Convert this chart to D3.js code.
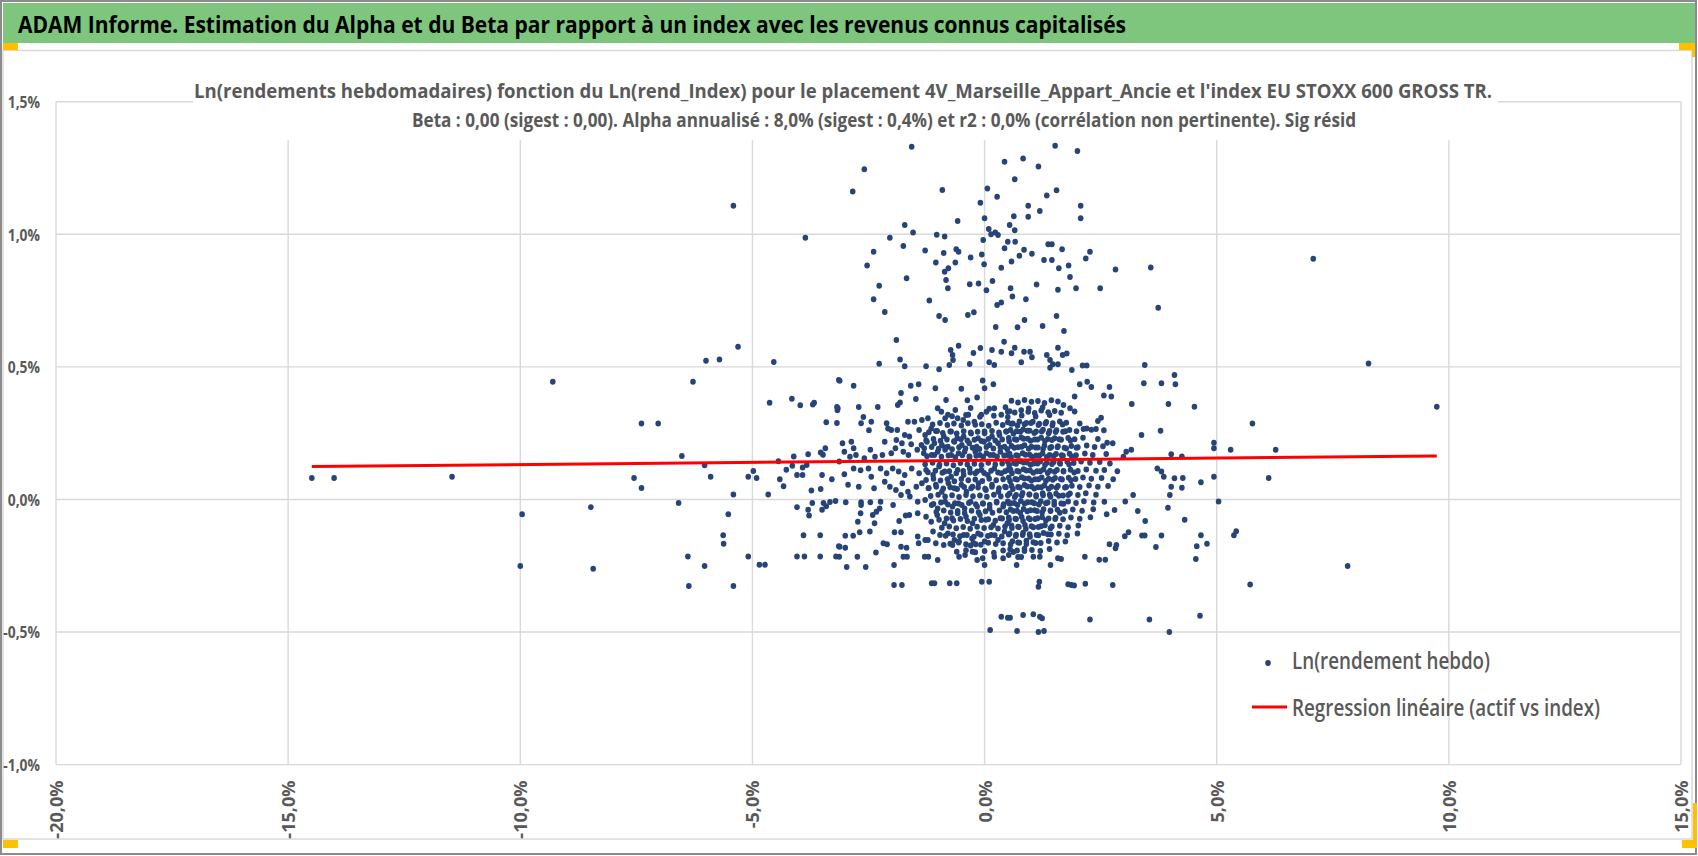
<!DOCTYPE html>
<html>
<head>
<meta charset="utf-8">
<script src="https://cdn.jsdelivr.net/npm/d3@7"></script>
<style>
  body { margin: 0; background: #fff; }
  svg text { font-family: "Open Sans", "Liberation Sans", sans-serif; }
</style>
</head>
<body>
<div id="chart"></div>
<script>
// ---- text ----
var headerTitle = "ADAM Informe. Estimation du Alpha et du Beta par rapport à un index avec les revenus connus capitalisés";
var chartTitle = [
  "Ln(rendements hebdomadaires) fonction du Ln(rend_Index) pour le placement 4V_Marseille_Appart_Ancie et l'index EU STOXX 600 GROSS TR.",
  "Beta : 0,00 (sigest : 0,00). Alpha annualisé : 8,0% (sigest : 0,4%) et r2 : 0,0% (corrélation non pertinente). Sig résid"
];
var seriesNames = ["Ln(rendement hebdo)", "Regression linéaire (actif vs index)"];

// ---- ticks (in %) ----
var xTicks = [-20, -15, -10, -5, 0, 5, 10, 15];
var yTicks = [-1.0, -0.5, 0.0, 0.5, 1.0, 1.5];

// ---- regression (in %) ----
var regIntercept = 0.148;
var regSlope = 0.00165;

// ---- points [index %, asset %] ----
// left wing
var ptsLeft = [
  [-5.41,1.108],[-3.86,0.987],[-5.31,0.576],[-6.00,0.523],[-5.71,0.528],[-4.54,0.518],[-9.30,0.444],[-6.28,0.444],
  [-3.14,0.450],[-4.63,0.365],[-4.15,0.380],[-3.97,0.355],[-3.70,0.358],[-3.67,0.365],[-3.18,0.349],[-3.17,0.336],
  [-3.41,0.291],[-3.18,0.288],[-7.39,0.286],[-7.03,0.286],[-6.52,0.164],[-3.43,0.193],[-3.53,0.177],[-3.48,0.169],
  [-3.80,0.170],[-4.11,0.162],[-4.44,0.144],[-6.03,0.129],[-4.14,0.127],[-3.92,0.120],[-3.83,0.130],[-4.27,0.112],
  [-4.98,0.107],[-14.49,0.081],[-14.01,0.081],[-11.47,0.086],[-7.55,0.081],[-5.90,0.086],[-5.09,0.086],[-4.91,0.081],
  [-4.41,0.076],[-4.04,0.092],[-3.92,0.092],[-3.50,0.092],[-3.29,0.076],[-7.39,0.043],[-4.33,0.050],[-3.73,0.034],
  [-3.53,0.039],[-5.41,0.019],[-4.66,0.019],[-6.59,-0.013],[-3.71,-0.013],[-3.47,-0.013],[-3.41,-0.026],[-3.33,-0.010],
  [-3.21,-0.006],[-4.04,-0.029],[-8.48,-0.029],[-3.80,-0.039],[-3.78,-0.061],[-3.50,-0.039],[-9.96,-0.056],[-5.52,-0.056],
  [-5.63,-0.135],[-5.62,-0.167],[-3.90,-0.135],[-3.54,-0.135],[-3.14,-0.177],[-6.39,-0.215],[-5.09,-0.215],[-4.04,-0.215],
  [-3.88,-0.215],[-3.54,-0.215],[-3.20,-0.215],[-10.00,-0.251],[-8.43,-0.261],[-6.03,-0.251],[-4.85,-0.246],[-4.73,-0.246],
  [-6.37,-0.326],[-5.41,-0.326]
];
// right wing
var ptsRight = [
  [7.08,0.908],[8.27,0.513],[9.74,0.350],[4.52,0.350],[5.77,0.286],[4.94,0.214],[4.94,0.193],[5.30,0.187],
  [6.27,0.187],[4.25,0.162],[4.27,0.081],[4.25,0.044],[4.66,0.065],[4.94,0.086],[6.12,0.081],[5.04,-0.008],
  [4.31,-0.077],[4.66,-0.135],[4.57,-0.177],[4.79,-0.167],[4.55,-0.225],[5.37,-0.135],[5.42,-0.120],[5.72,-0.321],
  [7.82,-0.251],[4.64,-0.439]
];
// core, index between -3,2% and 0,5%
var ptsCoreLeft = [
  [-1.57,1.330],[-2.59,1.245],[-2.84,1.161],[-0.91,1.167],[0.43,1.274],[0.06,1.173],[0.27,1.142],[-0.09,1.119],
  [0.00,1.060],[-0.58,1.050],[-1.72,1.035],[-1.54,1.007],[-2.04,0.987],[-1.03,0.998],[-0.86,0.992],[0.09,1.020],
  [0.14,1.000],[0.23,1.007],[-0.03,0.978],[0.29,0.997],[-1.75,0.956],[-2.39,0.934],[-1.28,0.939],[-0.88,0.929],
  [-0.61,0.944],[-0.56,0.934],[0.43,0.947],[-0.06,0.924],[-0.30,0.912],[-2.53,0.882],[-1.05,0.894],[-0.63,0.894],
  [-0.01,0.887],[0.36,0.874],[-0.86,0.859],[-0.78,0.872],[-1.68,0.834],[-0.83,0.828],[-0.79,0.796],[-2.27,0.806],
  [-0.32,0.812],[-0.13,0.814],[0.17,0.824],[0.04,0.789],[-2.39,0.755],[-1.19,0.750],[0.27,0.733],[0.36,0.743],
  [-2.15,0.707],[-0.98,0.692],[-0.85,0.677],[-0.36,0.696],[-0.23,0.706],[0.24,0.650],[-1.90,0.601],[-0.73,0.564],
  [-0.56,0.580],[-0.24,0.552],[-0.09,0.571],[0.16,0.564],[0.36,0.557],[0.42,0.595],[-1.82,0.528],[-2.27,0.512],
  [-1.72,0.502],[-1.26,0.502],[-0.98,0.491],[-0.76,0.507],[-0.68,0.526],[-0.69,0.545],[-0.32,0.511],[0.10,0.517],
  [0.21,0.507],[-3.12,0.448],[-2.82,0.429],[-1.42,0.434],[-1.59,0.429],[-1.06,0.419],[-0.50,0.417],[-0.04,0.449],
  [0.19,0.434],[-1.80,0.401],[-3.16,0.344],[-2.71,0.349],[-2.30,0.349],[-1.82,0.366],[-1.87,0.356],[-1.48,0.379],
  [-0.83,0.375],[-0.63,0.337],[-0.37,0.374],[-0.16,0.384],[0.00,0.419],
  [-2.61,0.311],[-2.44,0.293],[-2.11,0.287],[-2.66,0.287],[-1.65,0.293],[-1.51,0.293],[-1.35,0.300],[-1.22,0.306],
  [-1.01,0.344],[-0.93,0.331],[-0.85,0.306],[-0.79,0.319],[-0.58,0.306],[-0.46,0.300],[-0.35,0.319],[-0.22,0.293],
  [-0.07,0.319],[0.04,0.331],[0.21,0.344],[0.36,0.319],[0.50,0.331],
  [-2.49,0.261],[-2.08,0.268],[-2.01,0.262],[-1.88,0.262],[-1.72,0.243],[-1.62,0.237],[-1.41,0.262],[-1.28,0.243],
  [-1.15,0.268],[-1.02,0.258],[-0.88,0.238],[-0.72,0.256],[-0.59,0.231],[-0.45,0.237],[-0.29,0.249],[-0.14,0.231],
  [0.00,0.256],[0.16,0.237],[0.32,0.243],[0.47,0.256],
  [-3.06,0.212],[-2.87,0.218],[-2.15,0.218],[-1.90,0.224],[-1.78,0.212],[-1.58,0.208],[-1.36,0.205],[-1.24,0.218],
  [-1.08,0.212],[-0.92,0.205],[-0.79,0.199],[-0.65,0.218],[-0.49,0.205],[-0.33,0.212],[-0.17,0.199],[-0.01,0.218],
  [0.11,0.205],[0.29,0.212],[0.43,0.199],
  [-3.02,0.180],[-2.82,0.193],[-2.77,0.168],[-2.46,0.187],[-2.36,0.161],[-2.20,0.168],[-2.01,0.174],[-1.92,0.193],
  [-1.75,0.180],[-1.64,0.168],[-1.45,0.187],[-1.31,0.174],[-1.14,0.168],[-1.01,0.180],[-0.85,0.187],[-0.72,0.168],
  [-0.56,0.174],[-0.43,0.180],[-0.32,0.161],[-0.20,0.180],[-0.10,0.168],[0.04,0.174],[0.19,0.168],[0.34,0.180],
  [0.49,0.168],[-2.90,0.161],[-2.59,0.155],
  [-3.13,0.143],[-3.02,0.095],[-2.82,0.117],[-2.67,0.110],[-2.50,0.117],[-2.44,0.086],[-2.24,0.117],[-2.11,0.099],
  [-1.98,0.117],[-1.85,0.105],[-1.72,0.092],[-1.57,0.117],[-1.41,0.099],[-1.26,0.111],[-1.11,0.092],[-0.98,0.124],
  [-0.86,0.105],[-0.72,0.086],[-0.58,0.111],[-0.45,0.092],[-0.32,0.117],[-0.20,0.099],[-0.07,0.111],[0.07,0.092],
  [0.21,0.117],[0.36,0.099],[0.50,0.111],
  [-2.94,0.055],[-2.71,0.048],[-2.38,0.042],[-2.15,0.067],[-2.04,0.048],[-1.91,0.036],[-1.77,0.061],[-1.65,0.029],
  [-1.47,0.048],[-1.35,0.061],[-1.21,0.042],[-1.05,0.055],[-0.92,0.029],[-0.78,0.061],[-0.65,0.042],[-0.50,0.055],
  [-0.39,0.029],[-0.26,0.048],[-0.13,0.061],[0.03,0.036],[0.16,0.055],[0.30,0.029],[0.44,0.048],[-1.61,0.011],
  [-1.80,0.017],
  [-2.99,-0.011],[-2.66,-0.011],[-2.66,-0.021],[-2.46,-0.011],[-2.24,-0.009],[-1.97,-0.021],[-1.44,-0.009],[-1.28,-0.002],
  [-1.14,-0.021],[-1.01,-0.034],[-0.85,-0.009],[-0.69,-0.027],[-0.56,-0.015],[-0.43,-0.034],[-0.30,-0.009],[-0.16,-0.027],
  [-0.03,-0.015],[0.11,-0.034],[0.26,-0.009],[0.40,-0.027],[0.53,-0.015],
  [-2.67,-0.052],[-2.41,-0.059],[-2.33,-0.046],[-2.26,-0.034],[-2.37,-0.090],[-1.84,-0.081],[-1.70,-0.061],[-1.62,-0.059],
  [-1.44,-0.052],[-1.26,-0.065],[-1.15,-0.084],[-1.02,-0.059],[-0.86,-0.090],[-0.70,-0.071],[-0.58,-0.052],[-0.40,-0.065],
  [-0.26,-0.090],[-0.10,-0.059],[0.03,-0.077],[0.19,-0.096],[0.34,-0.071],[0.49,-0.090],[-2.73,-0.084],
  [-2.69,-0.124],[-2.47,-0.121],[-2.83,-0.137],[-3.00,-0.137],[-1.94,-0.124],[-1.80,-0.124],[-1.44,-0.140],[-1.28,-0.153],
  [-1.11,-0.121],[-0.96,-0.134],[-0.79,-0.128],[-0.65,-0.153],[-0.45,-0.134],[-0.27,-0.147],[-0.14,-0.128],[0.00,-0.159],
  [0.14,-0.134],[0.29,-0.153],[0.43,-0.121],[-2.18,-0.165],[-2.10,-0.169],[-1.80,-0.178],[-1.42,-0.165],[-1.22,-0.153],
  [-1.05,-0.165],[-0.88,-0.172],[-0.69,-0.172],[-0.55,-0.159],[-0.30,-0.174],[-0.19,-0.169],[-3.12,-0.178],[-3.00,-0.182],
  [-3.13,-0.216],[-2.97,-0.255],[-2.74,-0.216],[-2.56,-0.255],[-2.34,-0.200],[-1.95,-0.247],[-1.75,-0.216],[-1.67,-0.216],
  [-1.68,-0.182],[-1.29,-0.216],[-1.21,-0.216],[-1.01,-0.228],[-0.55,-0.216],[-0.42,-0.210],[-0.26,-0.197],[-0.16,-0.228],
  [-0.04,-0.222],[0.00,-0.247],[0.21,-0.216],[0.40,-0.222],[0.52,-0.210],
  [-1.95,-0.323],[-1.78,-0.323],[-1.14,-0.316],[-1.08,-0.316],[-0.75,-0.316],[-0.60,-0.316],[-0.06,-0.310],[0.10,-0.310],
  [0.36,-0.442],[0.50,-0.446],[0.12,-0.492]
];
// core, index between 0,5% and 4,2%
var ptsCoreRight = [
  [1.52,1.334],[2.00,1.314],[0.83,1.286],[1.16,1.256],[0.65,1.208],[1.34,1.146],[1.55,1.166],[0.94,1.108],
  [1.19,1.088],[0.94,1.066],[0.63,1.068],[2.07,1.108],[2.07,1.060],[0.54,1.035],[0.65,1.015],[0.50,0.972],
  [0.66,0.972],[0.85,0.942],[0.75,0.919],[1.02,0.927],[0.58,0.897],[1.37,0.962],[1.45,0.962],[1.67,0.944],
  [1.28,0.903],[1.45,0.903],[1.60,0.872],[1.81,0.882],[1.84,0.839],[2.18,0.909],[2.27,0.934],[2.82,0.867],
  [3.58,0.875],[0.56,0.796],[0.60,0.765],[1.12,0.811],[1.58,0.791],[1.97,0.796],[2.49,0.796],[0.89,0.755],
  [3.74,0.723],[0.86,0.677],[0.71,0.649],[1.25,0.654],[1.55,0.692],[1.71,0.635],[0.65,0.572],[0.58,0.551],
  [0.85,0.557],[0.98,0.557],[1.02,0.536],[0.79,0.517],[1.34,0.545],[1.41,0.526],[1.47,0.510],[1.41,0.497],
  [1.58,0.572],[1.58,0.510],[1.68,0.545],[1.77,0.550],[1.88,0.488],[2.11,0.505],[2.20,0.505],[3.45,0.507],
  [4.09,0.469],[3.43,0.438],[3.81,0.438],[4.11,0.434],[3.96,0.360],[3.17,0.360],[3.79,0.259],[3.38,0.243],
  [4.02,0.170],[2.05,0.434],[2.21,0.444],[2.30,0.424],[2.57,0.392],[2.69,0.424],[2.73,0.388],[1.84,0.344],
  [1.94,0.388],[1.70,0.356],[2.44,0.296],[2.51,0.308],[2.40,0.266],[2.57,0.261],[2.13,0.266],[2.20,0.268],
  [2.64,0.214],[2.76,0.212],[3.05,0.180],[3.16,0.187],[2.99,0.161],[3.72,0.117],[3.81,0.105],[3.86,0.086],
  [4.09,0.080],[4.02,0.048],[3.99,0.017],[3.95,-0.031],[3.20,0.017],[3.03,-0.008],[3.30,-0.044],[3.46,-0.081],
  [3.45,-0.136],[3.39,-0.136],[3.81,-0.136],[3.69,-0.179],[3.02,-0.139],[3.10,-0.124],[2.69,-0.169],[2.84,-0.172],
  [2.82,-0.184],[2.63,-0.056],[2.80,-0.040],[2.47,-0.227],[2.60,-0.227],[2.16,-0.216],[2.76,-0.323],[2.17,-0.318],
  [1.80,-0.320],[1.87,-0.323],[1.93,-0.325],[1.18,-0.310],[1.16,-0.329],[1.42,-0.247],[1.58,-0.222],[1.65,-0.225],
  [1.05,-0.216],[1.19,-0.216],[0.72,-0.217],[0.79,-0.217],[0.69,-0.247],[0.55,-0.446],[0.83,-0.436],[1.05,-0.433],
  [1.19,-0.442],[1.24,-0.448],[2.27,-0.453],[3.55,-0.453],[0.70,-0.496],[1.16,-0.500],[1.28,-0.496],[3.98,-0.500],
  [0.58,0.372],[0.72,0.366],[0.86,0.375],[1.01,0.368],[1.15,0.371],[1.29,0.364],[1.44,0.374],[1.58,0.369],
  [0.54,0.333],[0.65,0.328],[0.79,0.336],[0.94,0.331],[1.08,0.326],[1.22,0.335],[1.37,0.329],[1.51,0.334],[1.65,0.327],[1.94,0.332],
  [0.50,0.291],[0.61,0.286],[0.75,0.294],[0.90,0.288],[1.04,0.293],[1.18,0.285],[1.33,0.292],[1.47,0.287],[1.62,0.294],[1.76,0.289],[2.05,0.286],
  [0.56,0.262],[0.69,0.257],[0.83,0.264],[0.97,0.259],[1.11,0.256],[1.26,0.263],[1.40,0.258],[1.55,0.261],[1.69,0.255],[1.83,0.262],[1.98,0.257],[2.30,0.263],
  [0.52,0.232],[0.65,0.227],[0.79,0.234],[0.93,0.229],[1.08,0.226],[1.22,0.233],[1.36,0.228],[1.51,0.231],[1.65,0.225],[1.80,0.232],[1.94,0.227],[2.12,0.233],[2.44,0.228],
  [0.58,0.202],[0.72,0.197],[0.86,0.204],[1.01,0.199],[1.15,0.196],[1.29,0.203],[1.44,0.198],[1.58,0.201],[1.72,0.195],[1.87,0.202],[2.01,0.197],[2.20,0.203],[2.37,0.198],[2.55,0.201],
  [0.54,0.172],[0.68,0.167],[0.82,0.174],[0.97,0.169],[1.11,0.166],[1.25,0.173],[1.40,0.168],[1.54,0.171],[1.69,0.165],[1.83,0.172],[1.97,0.167],[2.16,0.173],[2.33,0.168],[2.62,0.171],
  [0.50,0.142],[0.63,0.137],[0.77,0.144],[0.91,0.139],[1.06,0.136],[1.20,0.143],[1.34,0.138],[1.49,0.141],[1.63,0.135],[1.78,0.142],[1.92,0.137],[2.08,0.143],[2.27,0.138],[2.48,0.141],[2.70,0.136],
  [0.56,0.112],[0.70,0.107],[0.84,0.114],[0.98,0.109],[1.13,0.106],[1.27,0.113],[1.41,0.108],[1.56,0.111],[1.70,0.105],[1.85,0.112],[2.01,0.107],[2.19,0.113],[2.40,0.108],[2.58,0.111],[2.86,0.106],
  [0.52,0.082],[0.66,0.077],[0.80,0.084],[0.95,0.079],[1.09,0.076],[1.23,0.083],[1.38,0.078],[1.52,0.081],[1.67,0.075],[1.81,0.082],[1.96,0.077],[2.12,0.083],[2.30,0.078],[2.52,0.081],[2.77,0.076],
  [0.58,0.052],[0.72,0.047],[0.86,0.054],[1.01,0.049],[1.15,0.046],[1.29,0.053],[1.44,0.048],[1.58,0.051],[1.73,0.045],[1.88,0.052],[2.05,0.047],[2.25,0.053],[2.44,0.048],[2.66,0.051],
  [0.54,0.022],[0.68,0.017],[0.82,0.024],[0.97,0.019],[1.11,0.016],[1.25,0.023],[1.40,0.018],[1.54,0.021],[1.69,0.015],[1.84,0.022],[2.01,0.017],[2.18,0.023],[2.40,0.018],
  [0.50,-0.008],[0.64,-0.013],[0.78,-0.006],[0.93,-0.011],[1.07,-0.014],[1.21,-0.007],[1.36,-0.012],[1.50,-0.009],[1.65,-0.015],[1.80,-0.008],[1.97,-0.013],[2.14,-0.007],[2.35,-0.012],[2.58,-0.009],
  [0.56,-0.038],[0.70,-0.043],[0.84,-0.036],[0.99,-0.041],[1.13,-0.044],[1.27,-0.037],[1.42,-0.042],[1.57,-0.039],[1.73,-0.045],[1.90,-0.038],[2.10,-0.043],[2.34,-0.037],
  [0.52,-0.068],[0.66,-0.073],[0.80,-0.066],[0.95,-0.071],[1.09,-0.074],[1.24,-0.067],[1.38,-0.072],[1.53,-0.069],[1.69,-0.075],[1.86,-0.068],[2.05,-0.073],[2.28,-0.067],
  [0.58,-0.098],[0.72,-0.103],[0.87,-0.096],[1.01,-0.101],[1.16,-0.104],[1.30,-0.097],[1.45,-0.102],[1.62,-0.099],[1.80,-0.105],[2.02,-0.098],
  [0.54,-0.128],[0.68,-0.133],[0.83,-0.126],[0.97,-0.131],[1.12,-0.134],[1.27,-0.127],[1.43,-0.132],[1.60,-0.129],[1.78,-0.135],[2.00,-0.128],
  [0.60,-0.158],[0.75,-0.163],[0.90,-0.156],[1.05,-0.161],[1.21,-0.164],[1.38,-0.157],[1.56,-0.162],[1.74,-0.159],
  [0.55,-0.188],[0.70,-0.193],[0.86,-0.186],[1.02,-0.191],[1.20,-0.194],[1.40,-0.187]
];
// densest part of the cloud, between the points above
var ptsCoreMid = [
  [-0.70,0.314],[-0.40,0.318],[-0.10,0.312],[0.20,0.316],[0.50,0.311],[0.80,0.317],[1.10,0.313],[1.40,0.318],
  [-0.30,0.345],[0.10,0.342],[0.45,0.348],[0.95,0.343],[1.25,0.347],
  [-1.12,0.283],[-0.96,0.288],[-0.80,0.281],[-0.66,0.286],[-0.50,0.279],[-0.36,0.287],[-0.20,0.282],[-0.06,0.284],[0.09,0.278],[0.25,0.289],[0.39,0.281],[0.57,0.285],[0.71,0.279],[0.86,0.284],[1.00,0.288],[1.16,0.281],[1.31,0.286],[1.46,0.279],[1.68,0.283],
  [-1.20,0.253],[-1.05,0.258],[-0.90,0.251],[-0.74,0.256],[-0.60,0.249],[-0.45,0.257],[-0.30,0.252],[-0.15,0.255],[0.00,0.250],[0.16,0.258],[0.31,0.252],[0.46,0.256],[0.62,0.249],[0.77,0.255],[0.92,0.259],[1.07,0.251],[1.23,0.256],[1.38,0.250],[1.53,0.254],[1.74,0.257],
  [-1.26,0.223],[-1.10,0.228],[-0.95,0.221],[-0.81,0.226],[-0.66,0.219],[-0.51,0.227],[-0.37,0.222],[-0.22,0.225],[-0.07,0.220],[0.08,0.228],[0.23,0.222],[0.38,0.226],[0.53,0.219],[0.69,0.225],[0.84,0.229],[0.99,0.221],[1.14,0.226],[1.30,0.220],[1.45,0.224],[1.61,0.227],[1.85,0.222],
  [-1.30,0.193],[-1.14,0.198],[-0.99,0.191],[-0.85,0.196],[-0.70,0.189],[-0.55,0.197],[-0.41,0.192],[-0.26,0.195],[-0.11,0.190],[0.04,0.198],[0.19,0.192],[0.34,0.196],[0.49,0.189],[0.64,0.195],[0.80,0.199],[0.95,0.191],[1.10,0.196],[1.26,0.190],[1.41,0.194],[1.57,0.197],[1.76,0.192],[1.98,0.195],
  [-1.24,0.163],[-1.08,0.168],[-0.93,0.161],[-0.78,0.166],[-0.63,0.159],[-0.48,0.167],[-0.33,0.162],[-0.18,0.165],[-0.03,0.160],[0.12,0.168],[0.27,0.162],[0.42,0.166],[0.57,0.159],[0.72,0.165],[0.88,0.169],[1.03,0.161],[1.18,0.166],[1.34,0.160],[1.49,0.164],[1.66,0.167],[1.88,0.162],
  [-1.28,0.133],[-1.12,0.138],[-0.97,0.131],[-0.82,0.136],[-0.67,0.129],[-0.52,0.137],[-0.37,0.132],[-0.22,0.135],[-0.07,0.130],[0.08,0.138],[0.23,0.132],[0.38,0.136],[0.53,0.129],[0.68,0.135],[0.84,0.139],[0.99,0.131],[1.14,0.136],[1.30,0.130],[1.45,0.134],[1.62,0.137],[1.82,0.132],
  [-1.22,0.103],[-1.06,0.108],[-0.91,0.101],[-0.76,0.106],[-0.61,0.099],[-0.46,0.107],[-0.31,0.102],[-0.16,0.105],[-0.01,0.100],[0.14,0.108],[0.29,0.102],[0.44,0.106],[0.59,0.099],[0.74,0.105],[0.90,0.109],[1.05,0.101],[1.20,0.106],[1.36,0.100],[1.51,0.104],[1.70,0.107],[1.93,0.102],
  [-1.26,0.073],[-1.10,0.078],[-0.95,0.071],[-0.80,0.076],[-0.65,0.069],[-0.50,0.077],[-0.35,0.072],[-0.20,0.075],[-0.05,0.070],[0.10,0.078],[0.25,0.072],[0.40,0.076],[0.55,0.069],[0.70,0.075],[0.86,0.079],[1.01,0.071],[1.16,0.076],[1.32,0.070],[1.47,0.074],[1.64,0.077],[1.86,0.072],
  [-1.20,0.043],[-1.04,0.048],[-0.89,0.041],[-0.74,0.046],[-0.59,0.039],[-0.44,0.047],[-0.29,0.042],[-0.14,0.045],[0.01,0.040],[0.16,0.048],[0.31,0.042],[0.46,0.046],[0.61,0.039],[0.76,0.045],[0.92,0.049],[1.07,0.041],[1.22,0.046],[1.38,0.040],[1.55,0.044],[1.76,0.047],
  [-1.16,0.013],[-1.00,0.018],[-0.85,0.011],[-0.70,0.016],[-0.55,0.009],[-0.40,0.017],[-0.25,0.012],[-0.10,0.015],[0.05,0.010],[0.20,0.018],[0.35,0.012],[0.50,0.016],[0.65,0.009],[0.80,0.015],[0.96,0.019],[1.11,0.011],[1.26,0.016],[1.42,0.010],[1.60,0.014],[1.80,0.017],
  [-1.10,-0.017],[-0.94,-0.012],[-0.79,-0.019],[-0.64,-0.014],[-0.49,-0.021],[-0.34,-0.013],[-0.19,-0.018],[-0.04,-0.015],[0.11,-0.020],[0.26,-0.012],[0.41,-0.018],[0.56,-0.014],[0.71,-0.021],[0.86,-0.015],[1.02,-0.011],[1.17,-0.019],[1.32,-0.014],[1.50,-0.020],[1.70,-0.016],
  [-1.04,-0.047],[-0.88,-0.042],[-0.73,-0.049],[-0.58,-0.044],[-0.43,-0.051],[-0.28,-0.043],[-0.13,-0.048],[0.02,-0.045],[0.17,-0.050],[0.32,-0.042],[0.47,-0.048],[0.62,-0.044],[0.77,-0.051],[0.92,-0.045],[1.08,-0.041],[1.24,-0.049],[1.42,-0.044],[1.62,-0.050],
  [-0.98,-0.077],[-0.82,-0.072],[-0.67,-0.079],[-0.52,-0.074],[-0.37,-0.081],[-0.22,-0.073],[-0.07,-0.078],[0.08,-0.075],[0.23,-0.080],[0.38,-0.072],[0.53,-0.078],[0.68,-0.074],[0.83,-0.081],[0.98,-0.075],[1.14,-0.071],[1.32,-0.079],[1.52,-0.074],
  [-0.92,-0.107],[-0.76,-0.102],[-0.61,-0.109],[-0.46,-0.104],[-0.31,-0.111],[-0.16,-0.103],[-0.01,-0.108],[0.14,-0.105],[0.29,-0.110],[0.44,-0.102],[0.59,-0.108],[0.74,-0.104],[0.89,-0.111],[1.05,-0.105],[1.22,-0.101],[1.42,-0.109],
  [-0.84,-0.137],[-0.68,-0.132],[-0.53,-0.139],[-0.38,-0.134],[-0.23,-0.141],[-0.08,-0.133],[0.07,-0.138],[0.22,-0.135],[0.37,-0.140],[0.52,-0.132],[0.67,-0.138],[0.82,-0.134],[0.98,-0.141],[1.16,-0.135],[1.36,-0.131],
  [-0.74,-0.167],[-0.56,-0.162],[-0.40,-0.169],[-0.24,-0.164],[-0.08,-0.171],[0.08,-0.163],[0.24,-0.168],[0.40,-0.165],[0.56,-0.170],[0.72,-0.162],[0.90,-0.168],[1.10,-0.164],
  [-0.60,-0.197],[-0.40,-0.192],[-0.20,-0.199],[0.00,-0.194],[0.20,-0.201],[0.40,-0.193],[0.62,-0.198],[0.86,-0.194]
];

var points = ptsLeft.concat(ptsCoreLeft, ptsCoreMid, ptsCoreRight, ptsRight);

var W = 1698, H = 856;
var dotColor = "#264478", lineColor = "#ff0000", gridColor = "#d9d9d9", textColor = "#595959";
var dotR = 3;
var narrow = 0.84; // horizontal squeeze for the small tick labels

var svg = d3.select("#chart").append("svg")
  .attr("width", W)
  .attr("height", H);

// frame, header band and selection marks
svg.append("rect").attr("x", 1).attr("y", 1).attr("width", W - 3).attr("height", H - 3)
  .style("fill", "#fff").style("stroke", "#8c8c8c").style("stroke-width", 2);
svg.append("rect").attr("x", 3).attr("y", 3).attr("width", 1692).attr("height", 40)
  .style("fill", "#7ec57e");
svg.append("rect").attr("x", 3).attr("y", 50.5).attr("width", 1689).attr("height", 788.5)
  .style("fill", "none").style("stroke", gridColor).style("stroke-width", 1.5);

var marks = [[3, 43, 15, 7], [1679, 43, 16, 7], [1692, 50, 3, 7], [3, 840, 15, 8], [1682, 840, 15, 8], [1693, 803, 4, 37]];
svg.selectAll(".mark").data(marks).join("rect")
  .attr("class", "mark")
  .attr("x", function (d) { return d[0]; })
  .attr("y", function (d) { return d[1]; })
  .attr("width", function (d) { return d[2]; })
  .attr("height", function (d) { return d[3]; })
  .style("fill", "#ffc000");

svg.append("text")
  .attr("x", 18).attr("y", 33)
  .attr("textLength", 1108).attr("lengthAdjust", "spacingAndGlyphs")
  .style("font-size", "24px").style("font-weight", "bold").style("fill", "#000")
  .text(headerTitle);

// scales
var x = d3.scaleLinear().domain([-20, 15]).range([56, 1681]);
var y = d3.scaleLinear().domain([-1.0, 1.5]).range([764.6, 101.7]);

var fr = d3.formatLocale({ decimal: ",", thousands: " ", grouping: [3], currency: ["", "€"], minus: "-" });
var pct = function (d) { return fr.format(".1f")(d) + "%"; };

// grid
var grid = svg.append("g");
grid.selectAll(".vgrid").data(xTicks).join("line")
  .attr("x1", function (d) { return x(d); }).attr("x2", function (d) { return x(d); })
  .attr("y1", y(1.5)).attr("y2", y(-1.0))
  .style("stroke", gridColor).style("stroke-width", 1.4);
grid.selectAll(".hgrid").data(yTicks).join("line")
  .attr("x1", x(-20)).attr("x2", x(15))
  .attr("y1", function (d) { return y(d); }).attr("y2", function (d) { return y(d); })
  .style("stroke", gridColor).style("stroke-width", 1.4);

// axes labels
var yAxis = svg.append("g")
  .attr("transform", "translate(" + x(-20) + ",0)")
  .call(d3.axisLeft(y).tickValues(yTicks).tickFormat(pct).tickSize(0));
yAxis.select(".domain").remove();
yAxis.selectAll("text")
  .attr("transform", "scale(" + narrow + ",1)")
  .attr("x", -16 / narrow).attr("dy", "0.36em")
  .style("font-size", "16.5px").style("font-weight", "bold").style("fill", textColor);

var xAxis = svg.append("g")
  .attr("transform", "translate(0," + y(-1.0) + ")")
  .call(d3.axisBottom(x).tickValues(xTicks).tickFormat(pct).tickSize(0));
xAxis.select(".domain").remove();
xAxis.selectAll("text")
  .attr("transform", "rotate(-90)")
  .attr("x", -16).attr("y", 0).attr("dy", "0.36em")
  .style("text-anchor", "end")
  .style("font-size", "18px").style("font-weight", "bold")
  .style("fill", textColor);

// chart title (white box hides the top grid line)
svg.append("rect").attr("x", 193).attr("y", 64).attr("width", 1305).attr("height", 76)
  .style("fill", "#fff");
svg.append("text")
  .attr("x", 194).attr("y", 98)
  .attr("textLength", 1298).attr("lengthAdjust", "spacingAndGlyphs")
  .style("font-size", "20px").style("font-weight", "bold").style("fill", textColor)
  .text(chartTitle[0]);
svg.append("text")
  .attr("x", 412).attr("y", 127)
  .attr("textLength", 944).attr("lengthAdjust", "spacingAndGlyphs")
  .style("font-size", "20px").style("font-weight", "bold").style("fill", textColor)
  .text(chartTitle[1]);

// scatter
svg.append("g").selectAll("ellipse")
  .data(points)
  .join("ellipse")
  .attr("cx", function (d) { return x(d[0]); })
  .attr("cy", function (d) { return y(d[1]); })
  .attr("rx", dotR - 0.2)
  .attr("ry", dotR)
  .style("fill", dotColor);

// regression line
var xExt = d3.extent(points, function (d) { return d[0]; });
var regLine = d3.line()
  .x(function (d) { return x(d); })
  .y(function (d) { return y(regIntercept + regSlope * d); });
svg.append("path")
  .datum(xExt)
  .attr("d", regLine)
  .style("fill", "none")
  .style("stroke", lineColor)
  .style("stroke-width", 3);

// legend
var legend = svg.append("g");
legend.append("ellipse").attr("cx", 1268).attr("cy", 663).attr("rx", dotR - 0.2).attr("ry", dotR).style("fill", dotColor);
legend.append("text")
  .attr("x", 1292).attr("y", 669)
  .attr("textLength", 198).attr("lengthAdjust", "spacingAndGlyphs")
  .style("font-size", "23px").style("font-weight", 600).style("fill", textColor)
  .text(seriesNames[0]);
legend.append("line")
  .attr("x1", 1252).attr("x2", 1287).attr("y1", 707).attr("y2", 707)
  .style("stroke", lineColor).style("stroke-width", 3);
legend.append("text")
  .attr("x", 1292).attr("y", 716)
  .attr("textLength", 308).attr("lengthAdjust", "spacingAndGlyphs")
  .style("font-size", "23px").style("font-weight", 600).style("fill", textColor)
  .text(seriesNames[1]);
</script>
</body>
</html>
